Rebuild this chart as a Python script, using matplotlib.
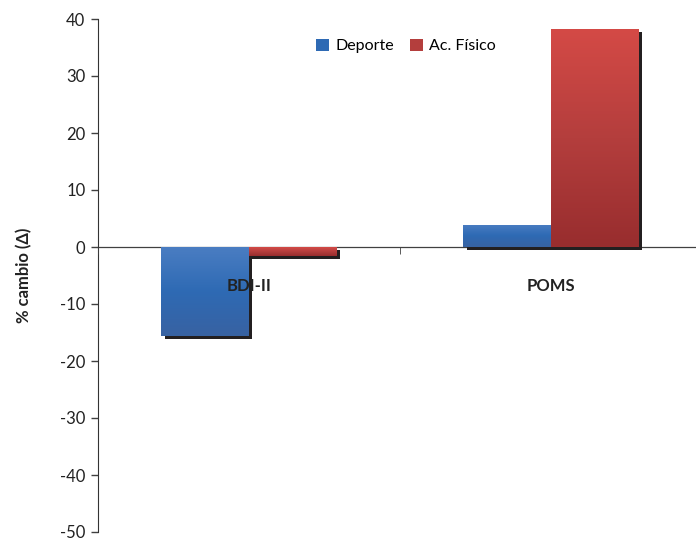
import numpy as np
import matplotlib.pyplot as plt
import matplotlib.patheffects as pe
from matplotlib.colors import LinearSegmentedColormap

plt.rcParams['font.family'] = ['Lato', 'DejaVu Sans']
plt.rcParams['axes.unicode_minus'] = False

categories = ["BDI-II", "POMS"]
deporte = [-15.6, 3.9]
ac_fisico = [-1.5, 38.2]
yticks = [40, 30, 20, 10, 0, -10, -20, -30, -40, -50]

fig = plt.figure(figsize=(6.96, 5.41), dpi=100)
ax = fig.add_axes([98 / 696, 9 / 541, 604 / 696, 513 / 541])

x = np.arange(len(categories))
w = 0.29

blue_cmap = LinearSegmentedColormap.from_list("b", ["#4A7DC2", "#2E6AB4", "#3862A2"])
red_cmap = LinearSegmentedColormap.from_list("r", ["#D44A46", "#B43E3D", "#982D2E"])

shadow = [pe.SimplePatchShadow(offset=(2.3, -2.3), shadow_rgbFace="#231F20", alpha=1.0), pe.Normal()]

bars_d = ax.bar(x - w / 2, deporte, w, color="#2E6AB4", label="Deporte",
                path_effects=shadow, zorder=2)
bars_f = ax.bar(x + w / 2, ac_fisico, w, color="#B43E3D", label="Ac. Físico",
                path_effects=shadow, zorder=2)

# vertical gradient over each bar, clipped to the bar outline
grad = np.linspace(0, 1, 256).reshape(-1, 1)
for bars, cmap in [(bars_d, blue_cmap), (bars_f, red_cmap)]:
    for b in bars:
        x0 = b.get_x()
        y0, y1 = sorted([b.get_y(), b.get_y() + b.get_height()])
        im = ax.imshow(grad, cmap=cmap, aspect="auto",
                       extent=(x0, x0 + b.get_width(), y0, y1),
                       origin="upper", zorder=2.5)
        im.set_clip_path(b)
# keep Ac. Físico bars above Deporte shadows
for b in bars_f:
    b.set_zorder(2.4)

ax.set_xlim(-0.5, 1.5)
ax.set_ylim(-50, 40)
ax.set_yticks(yticks)
ax.tick_params(axis="y", direction="out", length=5, width=1, color="#404040",
               labelsize=12, labelcolor="#222222", pad=4)

ax.spines["top"].set_visible(False)
ax.spines["right"].set_visible(False)
ax.spines["left"].set_color("#333333")
ax.spines["bottom"].set_position(("data", 0))
ax.spines["bottom"].set_color("#404040")
ax.spines["bottom"].set_linewidth(0.9)
ax.spines["bottom"].set_zorder(1)

ax.set_xticks(x)
ax.set_xticklabels(categories, fontsize=12, fontweight="bold", color="#222222")
ax.tick_params(axis="x", length=0, pad=22)
ax.set_xticks([-0.5, 0.5], minor=True)
ax.tick_params(axis="x", which="minor", direction="out", length=5, color="#404040")
# category names sit on top of the bars
ax.xaxis.set_zorder(5)

ax.set_ylabel("% cambio (Δ)", fontsize=12, fontweight="bold", color="#222222", labelpad=20)

leg = ax.legend(loc="upper center", bbox_to_anchor=(0.51, 0.99), ncol=2, frameon=False,
                fontsize=11.5, handlelength=0.8, handleheight=0.8, handletextpad=0.4,
                columnspacing=1.0)
for h in leg.legend_handles:
    h.set_path_effects([])

fig.savefig("out.png", dpi=100)
